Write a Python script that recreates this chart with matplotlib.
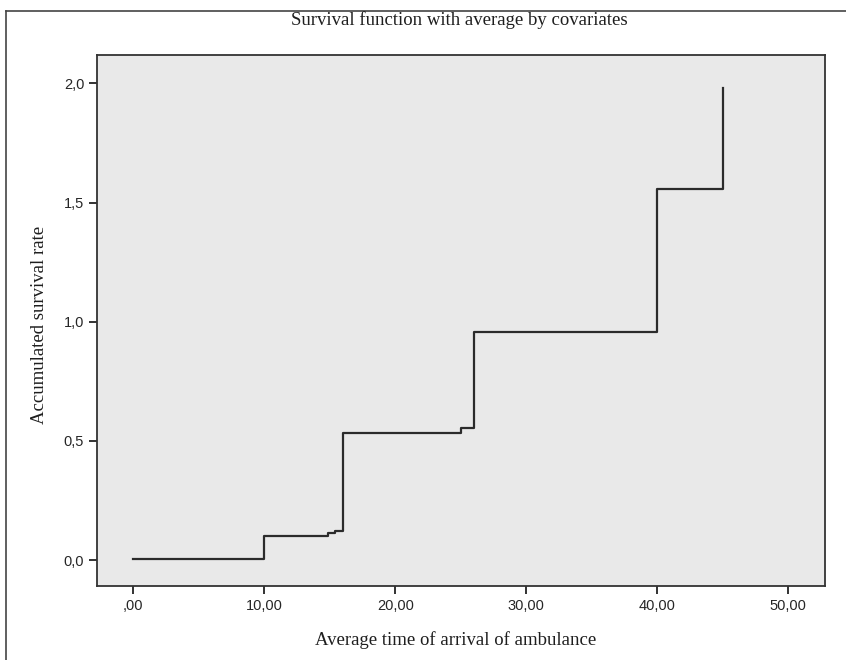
import matplotlib.pyplot as plt
import matplotlib.lines as mlines

# Step function (time, cumulative value)
times = [0.0, 10.0, 14.9, 15.4, 16.0, 25.0, 26.0, 40.0, 45.0]
values = [0.004, 0.100, 0.115, 0.123, 0.535, 0.555, 0.958, 1.557, 1.979]
end_time = 45.0

x_ticks = [0, 10, 20, 30, 40, 50]
x_tick_labels = [',00', '10,00', '20,00', '30,00', '40,00', '50,00']
y_ticks = [0.0, 0.5, 1.0, 1.5, 2.0]
y_tick_labels = ['0,0', '0,5', '1,0', '1,5', '2,0']

fig = plt.figure(figsize=(8.46, 6.6), dpi=100)
ax = fig.add_axes([96.7 / 846, 1 - 586 / 660, (825 - 96.7) / 846, (586 - 55) / 660])
ax.set_facecolor('#e9e9e9')

# step line; final vertical segment at 45 up to the last value
xs = times + [end_time]
ys = values + [values[-1]]
ax.step(xs, ys, where='post', color='#2b2b2b', lw=1.6)

ax.set_xlim(-2.79, 52.8)
ax.set_ylim(-0.109, 2.119)
ax.set_xticks(x_ticks)
ax.set_xticklabels(x_tick_labels)
ax.set_yticks(y_ticks)
ax.set_yticklabels(y_tick_labels)
ax.tick_params(direction='out', length=6, width=1.3, color='#222222',
               labelsize=10.5, labelcolor='#262626', pad=3)
for lab in ax.get_xticklabels() + ax.get_yticklabels():
    lab.set_family('Liberation Sans')
for sp in ax.spines.values():
    sp.set_color('#333333')
    sp.set_linewidth(1.3)

serif = 'Liberation Serif'
fig.text(459 / 846, 1 - 20 / 660, 'Survival function with average by covariates',
         ha='center', va='center', fontsize=13.5, family=serif, color='#1e1e1e')
fig.text(456 / 846, 1 - 640 / 660, 'Average time of arrival of ambulance',
         ha='center', va='center', fontsize=13.5, family=serif, color='#1e1e1e')
fig.text(40 / 846, 1 - 325 / 660, 'Accumulated survival rate', rotation=90,
         ha='center', va='center', fontsize=13.5, family=serif, color='#1e1e1e')

# outer frame lines (left and top)
fig.add_artist(mlines.Line2D([6 / 846, 6 / 846], [0, 1 - 11 / 660],
                             transform=fig.transFigure, color='#444444', lw=1.2))
fig.add_artist(mlines.Line2D([6 / 846, 1], [1 - 11 / 660, 1 - 11 / 660],
                             transform=fig.transFigure, color='#444444', lw=1.2))

fig.savefig('out.png', dpi=100)
